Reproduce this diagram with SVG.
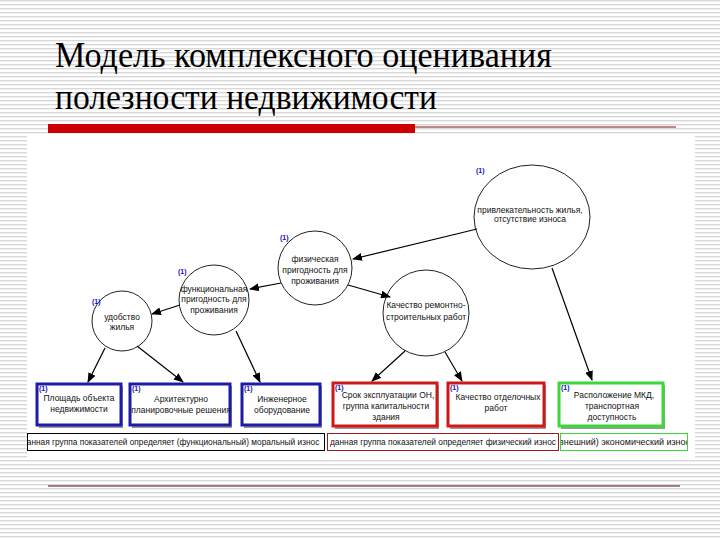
<svg xmlns="http://www.w3.org/2000/svg" width="720" height="540" viewBox="0 0 720 540">
<defs>
<pattern id="stripes" width="8" height="4" patternUnits="userSpaceOnUse">
<rect width="8" height="4" fill="#ffffff"/>
<rect y="0" width="8" height="1.4" fill="#d8d8d8"/>
</pattern>
<marker id="arr" markerWidth="10" markerHeight="8" refX="9" refY="4" orient="auto" markerUnits="userSpaceOnUse">
<path d="M0,0 L10,4 L0,8 Z" fill="#000"/>
</marker>
<clipPath id="clA"><rect x="28" y="434" width="296" height="16"/></clipPath>
<clipPath id="clC"><rect x="561" y="434" width="126" height="16"/></clipPath>
</defs>
<style>
.t{font-family:"Liberation Sans",Arial,sans-serif;font-size:8.5px;fill:#111;text-anchor:middle}
.lg{font-family:"Liberation Sans",Arial,sans-serif;font-size:8.3px;fill:#111}
.one{font-family:"Liberation Sans",Arial,sans-serif;font-size:7px;font-weight:bold;fill:#1010c0}
.c{fill:#fff;stroke:#222;stroke-width:1}
.bb{fill:#fff;stroke:#1c1ca8;stroke-width:3}
.rb{fill:#fff;stroke:#d01818;stroke-width:3}
.gb{fill:#fff;stroke:#3ad83a;stroke-width:3}
.sh{fill:#9a9a9a}
.con line{stroke:#000;stroke-width:1.2;marker-end:url(#arr)}
</style>
<rect width="720" height="540" fill="url(#stripes)"/>
<rect x="27" y="134" width="668" height="324" fill="#ffffff"/>
<text x="55" y="67" font-family="'Liberation Serif', 'Times New Roman', serif" font-size="35" fill="#000" textLength="497" lengthAdjust="spacingAndGlyphs">Модель комплексного оценивания</text>
<text x="55" y="109" font-family="'Liberation Serif', 'Times New Roman', serif" font-size="35" fill="#000" textLength="382" lengthAdjust="spacingAndGlyphs">полезности недвижимости</text>
<rect x="48" y="124" width="367" height="9" fill="#cc0000"/>
<line x1="415" y1="127" x2="676" y2="127" stroke="#7a1010" stroke-width="1"/>
<line x1="48" y1="486" x2="680" y2="486" stroke="#4a0c0c" stroke-width="1.2"/>

<g id="node-attractiveness">
<ellipse class="c" cx="532" cy="217" rx="58" ry="52"/>
<text class="one" x="476" y="173">(1)</text>
<text class="t" x="530" y="213">привлекательность жилья,</text>
<text class="t" x="530" y="222">отсутствие износа</text>
</g>
<g id="node-physical">
<circle class="c" cx="315" cy="268" r="37"/>
<text class="one" x="280" y="240">(1)</text>
<text class="t" x="315" y="262">физическая</text>
<text class="t" x="315" y="273">пригодность для</text>
<text class="t" x="315" y="284">проживания</text>
</g>
<g id="node-functional">
<circle class="c" cx="214" cy="300" r="35"/>
<text class="one" x="178" y="274">(1)</text>
<text class="t" x="214" y="292">функциональная</text>
<text class="t" x="214" y="302">пригодность для</text>
<text class="t" x="214" y="313">проживания</text>
</g>
<g id="node-comfort">
<circle class="c" cx="122" cy="321" r="30"/>
<text class="one" x="92" y="304">(1)</text>
<text class="t" x="122" y="320">удобство</text>
<text class="t" x="122" y="330">жилья</text>
</g>
<g id="node-repair">
<circle class="c" cx="426" cy="313" r="43"/>
<text class="t" x="426" y="308">Качество ремонтно-</text>
<text class="t" x="426" y="320">строительных работ</text>
</g>

<g id="box-area">
<rect class="sh" x="39" y="386" width="84" height="42"/>
<rect class="bb" x="37" y="384" width="84" height="41"/>
<text class="one" x="39" y="391">(1)</text>
<text class="t" x="79" y="401">Площадь объекта</text>
<text class="t" x="79" y="412">недвижимости</text>
</g>
<g id="box-arch">
<rect class="sh" x="132" y="386" width="100" height="42"/>
<rect class="bb" x="130" y="384" width="100" height="41"/>
<text class="one" x="132" y="391">(1)</text>
<text class="t" x="181" y="402">Архитектурно</text>
<text class="t" x="181" y="413">планировочные решения</text>
</g>
<g id="box-eng">
<rect class="sh" x="244" y="386" width="78" height="42"/>
<rect class="bb" x="242" y="384" width="78" height="41"/>
<text class="one" x="244" y="391">(1)</text>
<text class="t" x="282" y="402">Инженерное</text>
<text class="t" x="282" y="413">оборудование</text>
</g>
<g id="box-term">
<rect class="sh" x="335" y="385" width="104" height="44"/>
<rect class="rb" x="333" y="383" width="104" height="43"/>
<text class="one" x="335" y="390">(1)</text>
<text class="t" x="388" y="398">Срок эксплуатации ОН,</text>
<text class="t" x="386" y="409">группа капитальности</text>
<text class="t" x="386" y="420">здания</text>
</g>
<g id="box-finish">
<rect class="sh" x="450" y="385" width="96" height="44"/>
<rect class="rb" x="448" y="383" width="96" height="43"/>
<text class="one" x="450" y="390">(1)</text>
<text class="t" x="498" y="400">Качество отделочных</text>
<text class="t" x="496" y="411">работ</text>
</g>
<g id="box-location">
<rect class="sh" x="561" y="385" width="104" height="44"/>
<rect class="gb" x="559" y="383" width="104" height="43"/>
<text class="one" x="561" y="390">(1)</text>
<text class="t" x="614" y="398">Расположение МКД,</text>
<text class="t" x="612" y="409">транспортная</text>
<text class="t" x="612" y="420">доступность</text>
</g>

<g id="legend-functional">
<rect x="27.5" y="433.5" width="297" height="17" fill="#fff" stroke="#000" stroke-width="1"/>
<text class="lg" x="22" y="445" clip-path="url(#clA)">данная группа показателей определяет (функциональный) моральный износ</text>
</g>
<g id="legend-physical">
<rect x="327.5" y="433.5" width="231" height="17" fill="#fff" stroke="#a01818" stroke-width="1"/>
<text class="lg" x="330" y="445" textLength="226" lengthAdjust="spacingAndGlyphs">данная группа показателей определяет физический износ</text>
</g>
<g id="legend-economic">
<rect x="560.5" y="433.5" width="127" height="17" fill="#fff" stroke="#3ad83a" stroke-width="1"/>
<text class="lg" x="556" y="445" clip-path="url(#clC)" textLength="134" lengthAdjust="spacingAndGlyphs">(внешний) экономический износ</text>
</g>

<g id="connectors" class="con">
<line x1="477" y1="229" x2="353" y2="259"/>
<line x1="281" y1="283" x2="250" y2="289"/>
<line x1="180" y1="305" x2="152" y2="314"/>
<line x1="348" y1="285" x2="390" y2="297"/>
<line x1="105" y1="348" x2="88" y2="382"/>
<line x1="137" y1="346" x2="183" y2="382"/>
<line x1="236" y1="331" x2="260" y2="382"/>
<line x1="405" y1="351" x2="372" y2="381"/>
<line x1="445" y1="352" x2="462" y2="381"/>
<line x1="552" y1="268" x2="592" y2="380"/>
</g>
</svg>
